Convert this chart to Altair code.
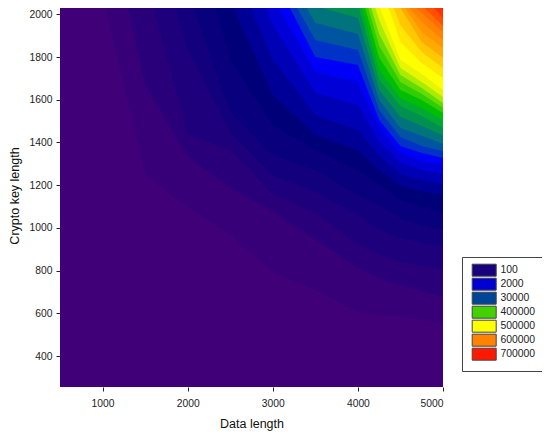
import altair as alt
import pandas as pd

FONT = "Liberation Sans"

# data length nodes at which the contour boundaries were read
nodes = [500, 1000, 1500, 2000, 2500, 3000, 3500, 4000, 4250, 4500, 4750, 5000]

# each band: fill colour, data length where its boundary leaves the top edge,
# crypto key length of that boundary at every following node
bands = [
    ("#400078", 500,  [256] * 12),
    ("#370078", 1020, [1248, 1098, 967, 794, 710, 607, 593, 583, 569, 555]),
    ("#2a007a", 1290, [1669, 1332, 1187, 1075, 944, 813, 761, 733, 705, 677]),
    ("#1e007d", 1585, [1435, 1365, 1154, 1070, 920, 874, 841, 822, 803]),
    ("#12007d", 1844, [1833, 1445, 1248, 1168, 1061, 991, 953, 930, 911]),
    ("#08007d", 2056, [1543, 1342, 1271, 1154, 1108, 1047, 1014, 991]),
    ("#000078", 2316, [1786, 1482, 1365, 1271, 1206, 1131, 1098, 1075]),
    ("#000096", 2516, [1622, 1435, 1365, 1271, 1197, 1173, 1154]),
    ("#0000b4", 2728, [1786, 1529, 1459, 1337, 1253, 1225, 1206]),
    ("#0000d7", 2905, [1950, 1632, 1576, 1402, 1304, 1271, 1253]),
    ("#0000fa", 3047, [1730, 1683, 1468, 1351, 1314, 1295]),
    ("#0032c8", 3176, [1800, 1763, 1505, 1384, 1351, 1328]),
    ("#0055a0", 3259, [1880, 1833, 1552, 1426, 1384, 1360]),
    ("#00737d", 3377, [1959, 1908, 1599, 1468, 1431, 1393]),
    ("#009050", 3471, [2039, 1983, 1646, 1519, 1477, 1431]),
    ("#00aa32", 4002, [1693, 1571, 1524, 1468]),
    ("#00be00", 4037, [1739, 1608, 1562, 1505]),
    ("#32cd00", 4072, [1796, 1646, 1599, 1538]),
    ("#64dc00", 4108, [1852, 1683, 1627, 1562]),
    ("#aaeb00", 4143, [1908, 1716, 1655, 1585]),
    ("#e6f500", 4190, [1973, 1749, 1683, 1613]),
    ("#ffff00", 4237, [2039, 1786, 1721, 1646]),
    ("#ffe600", 4344, [1870, 1772, 1702]),
    ("#ffc800", 4403, [1950, 1824, 1749]),
    ("#ffaa00", 4461, [2030, 1870, 1796]),
    ("#ff9600", 4520, [1917, 1842]),
    ("#ff8200", 4568, [1964, 1880]),
    ("#ff6e00", 4627, [2006, 1917]),
    ("#ff5000", 4733, [1945]),
    ("#ff3200", 4851, [1983]),
    ("#ff0f00", 4945, [2020]),
]

legend_labels = ["100", "2000", "30000", "400000", "500000", "600000", "700000"]
legend_colors = ["#19007d", "#0000d2", "#004696", "#41d200", "#ffff00", "#ff8200", "#ff1900"]

x_ticks = [1000, 2000, 3000, 4000, 5000]
y_ticks = [400, 600, 800, 1000, 1200, 1400, 1600, 1800, 2000]

rows = []
for i, (color, top_x, ys) in enumerate(bands):
    rows.append({"band": i, "color": color, "x": top_x, "y": 2048})
    for x, y in zip(nodes[-len(ys):], ys):
        rows.append({"band": i, "color": color, "x": x, "y": y})
df = pd.DataFrame(rows)

x_enc = alt.X(
    "x:Q",
    title="Data length",
    scale=alt.Scale(domain=[500, 5000], nice=False, zero=False),
    axis=alt.Axis(values=x_ticks, grid=False, domain=False, tickSize=4, tickColor="#222222",
                  labelFont=FONT, labelFontSize=10.3, labelColor="#222222", labelPadding=7,
                  titleFont=FONT, titleFontSize=12.5, titleFontWeight="normal", titleColor="#111111",
                  titlePadding=9, format="d"),
)
y_enc = alt.Y(
    "y:Q",
    title="Crypto key length",
    scale=alt.Scale(domain=[256, 2048], range=[379, -4], nice=False, zero=False),
    axis=alt.Axis(values=y_ticks, grid=False, domain=False, tickSize=4, tickColor="#222222",
                  labelFont=FONT, labelFontSize=10.3, labelColor="#222222", labelPadding=4,
                  titleFont=FONT, titleFontSize=12.5, titleFontWeight="normal", titleColor="#111111",
                  titlePadding=8, format="d"),
)

areas = alt.Chart(df).mark_area(interpolate="linear", strokeWidth=0).encode(
    x=x_enc,
    y=y_enc,
    y2=alt.Y2(datum=2048),
    color=alt.Color("color:N", scale=None),
    detail="band:N",
    order="band:Q",
)

legend_df = pd.DataFrame({"label": legend_labels})
legend_layer = alt.Chart(legend_df).mark_square(opacity=0).encode(
    x=alt.value(0),
    y=alt.value(0),
    color=alt.Color(
        "label:N",
        sort=legend_labels,
        scale=alt.Scale(domain=legend_labels, range=legend_colors),
        legend=alt.Legend(
            title=None, orient="none", legendX=402, legendY=249,
            symbolType="M-1,-2H7V2H-1Z", symbolSize=36, symbolOpacity=1,
            symbolStrokeColor="#444444", symbolStrokeWidth=1,
            labelFont=FONT, labelFontSize=10.4, labelColor="#222222", labelOffset=20,
            strokeColor="#444444", fillColor="white", padding=8, rowPadding=-4.3,
        ),
    ),
)

chart = (
    alt.layer(areas, legend_layer)
    .resolve_scale(color="independent")
    .properties(
        width=383, height=379,
        autosize=alt.AutoSizeParams(type="none"),
        padding={"left": 52, "top": 0, "right": 99, "bottom": 49},
    )
    .configure_view(stroke=None)
)

chart.save("out.html", embed_options={"renderer": "svg", "actions": False})
